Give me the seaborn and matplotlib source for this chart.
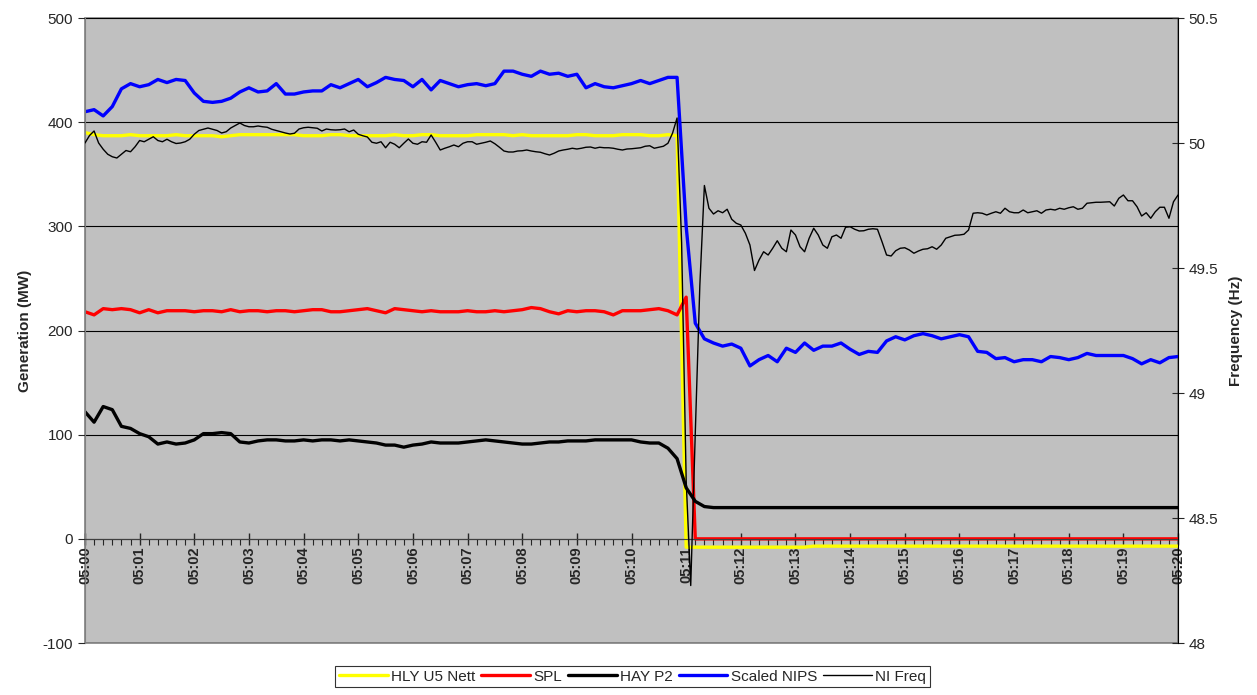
import numpy as np
import pandas as pd
import seaborn as sns
import matplotlib.pyplot as plt
from matplotlib.ticker import MultipleLocator, FuncFormatter

# series sampled every 10 s from 05:00:00 to 05:20:00 (121 points)
hly_u5 = [390, 388, 387, 387, 387, 388, 387, 387, 387, 387,
          388, 387, 387, 387, 387, 386, 387, 388, 388, 388,
          388, 388, 388, 388, 387, 387, 387, 388, 388, 387,
          387, 387, 387, 387, 388, 387, 387, 388, 388, 387,
          387, 387, 387, 388, 388, 388, 388, 387, 388, 387,
          387, 387, 387, 387, 388, 388, 387, 387, 387, 388,
          388, 388, 387, 387, 388, 387,
          -8, -8, -8, -8, -8, -8, -8, -8, -8, -8,
          -8, -8, -8, -8, -7, -7, -7, -7, -7, -7,
          -7, -7, -7, -7, -7, -7, -7, -7, -7, -7,
          -7, -7, -7, -7, -7, -7, -7, -7, -7, -7,
          -7, -7, -7, -7, -7, -7, -7, -7, -7, -7,
          -7, -7, -7, -7, -7]

spl = [218, 215, 221, 220, 221, 220, 217, 220, 217, 219,
       219, 219, 218, 219, 219, 218, 220, 218, 219, 219,
       218, 219, 219, 218, 219, 220, 220, 218, 218, 219,
       220, 221, 219, 217, 221, 220, 219, 218, 219, 218,
       218, 218, 219, 218, 218, 219, 218, 219, 220, 222,
       221, 218, 216, 219, 218, 219, 219, 218, 215, 219,
       219, 219, 220, 221, 219, 215,
       232, 0, 0, 0, 0, 0, 0, 0, 0, 0,
       0, 0, 0, 0, 0, 0, 0, 0, 0, 0,
       0, 0, 0, 0, 0, 0, 0, 0, 0, 0,
       0, 0, 0, 0, 0, 0, 0, 0, 0, 0,
       0, 0, 0, 0, 0, 0, 0, 0, 0, 0,
       0, 0, 0, 0, 0]

hay_p2 = [122, 112, 127, 124, 108, 106, 101, 98, 91, 93,
          91, 92, 95, 101, 101, 102, 101, 93, 92, 94,
          95, 95, 94, 94, 95, 94, 95, 95, 94, 95,
          94, 93, 92, 90, 90, 88, 90, 91, 93, 92,
          92, 92, 93, 94, 95, 94, 93, 92, 91, 91,
          92, 93, 93, 94, 94, 94, 95, 95, 95, 95,
          95, 93, 92, 92, 87, 77,
          49, 36, 31, 30, 30, 30, 30, 30, 30, 30,
          30, 30, 30, 30, 30, 30, 30, 30, 30, 30,
          30, 30, 30, 30, 30, 30, 30, 30, 30, 30,
          30, 30, 30, 30, 30, 30, 30, 30, 30, 30,
          30, 30, 30, 30, 30, 30, 30, 30, 30, 30,
          30, 30, 30, 30, 30]

nips = [410, 412, 406, 415, 432, 437, 434, 436, 441, 438,
        441, 440, 428, 420, 419, 420, 423, 429, 433, 429,
        430, 437, 427, 427, 429, 430, 430, 436, 433, 437,
        441, 434, 438, 443, 441, 440, 434, 441, 431, 440,
        437, 434, 436, 437, 435, 437, 449, 449, 446, 444,
        449, 446, 447, 444, 446, 433, 437, 434, 433, 435,
        437, 440, 437, 440, 443, 443,
        300, 207, 192, 188, 185, 187, 183, 166, 172, 176,
        170, 183, 179, 188, 181, 185, 185, 188, 182, 177,
        180, 179, 190, 194, 191, 195, 197, 195, 192, 194,
        196, 194, 180, 179, 173, 174, 170, 172, 172, 170,
        175, 174, 172, 174, 178, 176, 176, 176, 176, 173,
        168, 172, 169, 174, 175]

# NI frequency sampled every 5 s (241 points)
ni_freq = [50.000, 50.030, 50.048, 50.000, 49.975, 49.955, 49.945, 49.940, 49.955, 49.970,
           49.965, 49.985, 50.010, 50.005, 50.015, 50.025, 50.010, 50.005, 50.015, 50.005,
           49.998, 50.000, 50.005, 50.015, 50.035, 50.050, 50.055, 50.060, 50.055, 50.050,
           50.040, 50.045, 50.060, 50.070, 50.080, 50.070, 50.065, 50.065, 50.068, 50.065,
           50.063, 50.055, 50.050, 50.045, 50.040,
           50.036, 50.039, 50.056, 50.061, 50.063, 50.061, 50.059, 50.048, 50.056, 50.053,
           50.052, 50.053, 50.056, 50.045, 50.052, 50.035, 50.029, 50.024, 50.003, 49.999,
           50.005, 49.981, 50.003, 49.995, 49.981, 49.999, 50.016, 49.999, 49.995, 50.005,
           50.003, 50.032, 50.003, 49.972, 49.979, 49.985, 49.992, 49.985, 49.999, 50.005,
           50.005, 49.995, 49.999,
           50.003, 50.008, 49.997, 49.983, 49.968, 49.964, 49.964, 49.968, 49.969, 49.972,
           49.968, 49.965, 49.963, 49.957, 49.952, 49.959, 49.968, 49.972, 49.975, 49.979,
           49.976, 49.979, 49.983, 49.984, 49.979, 49.983, 49.981, 49.981, 49.979, 49.975,
           49.972, 49.976, 49.977, 49.979, 49.981, 49.987, 49.989, 49.979, 49.983, 49.987,
           49.999, 50.039, 50.100,
           49.600, 48.650, 48.230, 48.840, 49.430, 49.830, 49.739, 49.716, 49.729, 49.721,
           49.735, 49.695, 49.679, 49.672, 49.639, 49.592, 49.490, 49.532, 49.565, 49.552,
           49.579, 49.609, 49.579, 49.565, 49.652, 49.632, 49.585, 49.565, 49.619, 49.659,
           49.632, 49.592, 49.579, 49.625, 49.632, 49.619, 49.663, 49.665, 49.655,
           49.648, 49.649, 49.655, 49.657, 49.655, 49.605, 49.552, 49.548, 49.569, 49.579,
           49.581, 49.572, 49.559, 49.568, 49.575, 49.577, 49.585, 49.575, 49.592, 49.619,
           49.625, 49.631, 49.632, 49.635, 49.652, 49.719, 49.721, 49.719, 49.712, 49.719,
           49.725, 49.719, 49.739, 49.725, 49.721, 49.721, 49.732,
           49.721, 49.725, 49.729, 49.719, 49.732, 49.735, 49.732, 49.739, 49.735, 49.741,
           49.745, 49.735, 49.739, 49.759, 49.761, 49.763, 49.763, 49.764, 49.765, 49.748,
           49.779, 49.792, 49.769, 49.769, 49.745, 49.708, 49.721, 49.699, 49.725, 49.743,
           49.743, 49.699, 49.765, 49.792]

# minutes after 05:00
t_gen = np.arange(len(nips)) * 10 / 60
t_freq = np.arange(len(ni_freq)) * 5 / 60

df = pd.DataFrame({'min': t_gen, 'HLY U5 Nett': hly_u5, 'SPL': spl,
                   'HAY P2': hay_p2, 'Scaled NIPS': nips})
df_f = pd.DataFrame({'min': t_freq, 'NI Freq': ni_freq})

sns.set_style('white')
plt.rcParams['font.family'] = ['Liberation Sans', 'DejaVu Sans']
plt.rcParams['axes.unicode_minus'] = False

fig = plt.figure(figsize=(12.57, 6.95), dpi=100)
ax = fig.add_axes([0.0676, 0.0748, 0.8696, 0.8993])
ax.set_facecolor('#C0C0C0')

colors = {'HLY U5 Nett': '#FFFF00', 'SPL': '#FF0000', 'HAY P2': '#000000', 'Scaled NIPS': '#0000FF'}
for name in ['HLY U5 Nett', 'SPL', 'HAY P2', 'Scaled NIPS']:
    sns.lineplot(data=df, x='min', y=name, ax=ax, color=colors[name], lw=2.4, label=name, legend=False)

ax.set_xlim(0, 20)
ax.set_ylim(-100, 500)
ax.yaxis.set_major_locator(MultipleLocator(100))
ax.grid(axis='y', color='black', lw=0.8)
ax.grid(axis='x', visible=False)
ax.set_axisbelow(True)

# x axis sits on the 0 line
ax.spines['bottom'].set_position(('data', 0))
ax.spines['bottom'].set_color('#404040')
ax.spines['left'].set_color('#808080')
ax.spines['top'].set_visible(False)
ax.spines['right'].set_visible(False)
ax.patch.set_edgecolor('#808080')
ax.patch.set_linewidth(1.2)

ax.xaxis.set_major_locator(MultipleLocator(1))
ax.xaxis.set_minor_locator(MultipleLocator(1 / 6))
ax.xaxis.set_major_formatter(FuncFormatter(lambda v, p: '05:%02d' % int(round(v))))
ax.tick_params(axis='x', which='major', direction='inout', length=9, width=1, pad=1,
               labelsize=10.5, labelrotation=90, bottom=True)
ax.tick_params(axis='x', which='minor', direction='out', length=4, width=0.8, bottom=True)
for lbl in ax.get_xticklabels():
    lbl.set_fontweight('bold')
ax.tick_params(axis='y', direction='out', length=5, labelsize=11, left=True)
ax.set_xlabel('')
ax.set_ylabel('Generation (MW)', fontsize=11, fontweight='bold', labelpad=8)

ax2 = ax.twinx()
sns.lineplot(data=df_f, x='min', y='NI Freq', ax=ax2, color='black', lw=1.0, label='NI Freq', legend=False)
ax2.set_ylim(48, 50.5)
ax2.yaxis.set_major_locator(MultipleLocator(0.5))
ax2.yaxis.set_major_formatter(FuncFormatter(lambda v, p: ('%g' % v)))
ax2.tick_params(axis='y', direction='inout', length=8, labelsize=11, right=True)
ax2.grid(False)
for s in ['top', 'left', 'bottom']:
    ax2.spines[s].set_visible(False)
ax2.spines['right'].set_color('black')
ax2.set_ylabel('Frequency (Hz)', fontsize=11, fontweight='bold', labelpad=8)

h1, l1 = ax.get_legend_handles_labels()
h2, l2 = ax2.get_legend_handles_labels()
leg = fig.legend(h1 + h2, l1 + l2, loc='lower center', bbox_to_anchor=(0.503, 0.0), ncol=5,
                 frameon=True, fancybox=False, fontsize=11, handlelength=3.2, handletextpad=0.2,
                 columnspacing=0.4, borderpad=0.25)
leg.get_frame().set_edgecolor('black')
leg.get_frame().set_linewidth(0.8)

fig.savefig('out.png', dpi=100)
